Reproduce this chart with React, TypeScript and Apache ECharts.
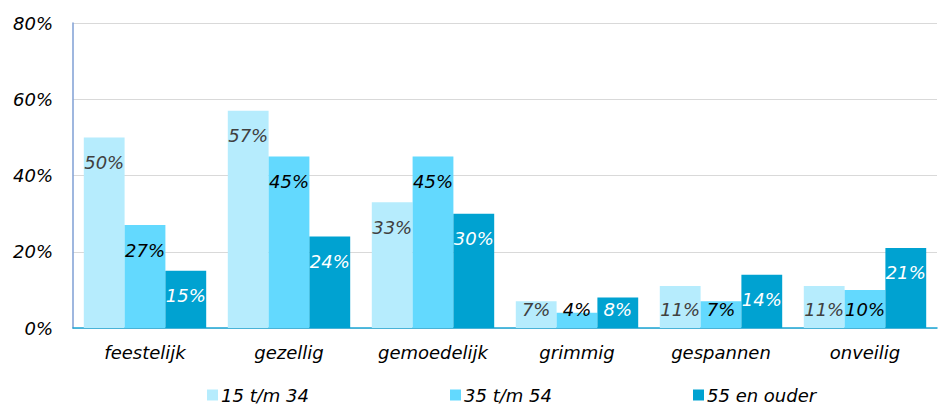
import React, { useEffect, useRef } from "react";
import * as echarts from "echarts";

const categories = ["feestelijk", "gezellig", "gemoedelijk", "grimmig", "gespannen", "onveilig"];
const seriesNames = ["15 t/m 34", "35 t/m 54", "55 en ouder"];
const values15to34 = [50, 57, 33, 7, 11, 11];
const values35to54 = [27, 45, 45, 4, 7, 10];
const values55plus = [15, 24, 30, 8, 14, 21];
const yTicks = [0, 20, 40, 60, 80];

const colors = ["#b6ecfd", "#63d9fe", "#00a2d1"];
const labelColors = ["#404040", "#000000", "#ffffff"];
const FONT = "DejaVu Sans, Verdana, sans-serif";
const FS = 18;

export default function App() {
  const ref = useRef<HTMLDivElement>(null);
  useEffect(() => {
    if (!ref.current) return;
    const chart = echarts.init(ref.current, undefined, { renderer: "svg" });
    const allValues = [values15to34, values35to54, values55plus];
    const series = allValues.map((vals, si) => ({
      name: seriesNames[si],
      type: "bar",
      barGap: "0%",
      barCategoryGap: "15%",
      itemStyle: { color: colors[si] },
      data: vals.map((v) => ({
        value: v,
        label:
          v < 12.5
            ? { position: "insideBottom", distance: 10 }
            : { position: "insideTop", distance: 16 },
      })),
      label: {
        show: true,
        formatter: "{c}%",
        color: labelColors[si],
        fontStyle: "italic",
        fontFamily: FONT,
        fontSize: FS,
      },
    }));
    const legendLefts = [207, 450, 693];
    chart.setOption({
      animation: false,
      grid: { left: 73, right: 2, top: 23, bottom: 79 },
      xAxis: {
        type: "category",
        data: categories,
        axisTick: { show: false },
        axisLine: { lineStyle: { color: "#1aa6d6", width: 1.5 } },
        axisLabel: {
          color: "#000",
          fontStyle: "italic",
          fontFamily: FONT,
          fontSize: FS,
          margin: 15,
        },
      },
      yAxis: {
        type: "value",
        min: yTicks[0],
        max: yTicks[yTicks.length - 1],
        interval: 20,
        axisLine: { show: true, lineStyle: { color: "#7f9fd4", width: 1.5 } },
        axisTick: { show: false },
        splitLine: { lineStyle: { color: "#d9d9d9" } },
        axisLabel: {
          formatter: "{value}%",
          color: "#000",
          fontStyle: "italic",
          fontFamily: FONT,
          fontSize: FS,
          margin: 20,
        },
      },
      legend: seriesNames.map((n, i) => ({
        data: [n],
        left: legendLefts[i],
        top: 386,
        icon: "rect",
        itemWidth: 11,
        itemHeight: 11,
        itemGap: 4,
        padding: 0,
        textStyle: {
          color: "#000",
          fontStyle: "italic",
          fontFamily: FONT,
          fontSize: FS,
          padding: [0, 0, 0, -2],
        },
      })),
      series,
    });
    return () => chart.dispose();
  }, []);
  return <div ref={ref} style={{ width: 939, height: 407, position: "absolute", left: 0, top: 0 }} />;
}
